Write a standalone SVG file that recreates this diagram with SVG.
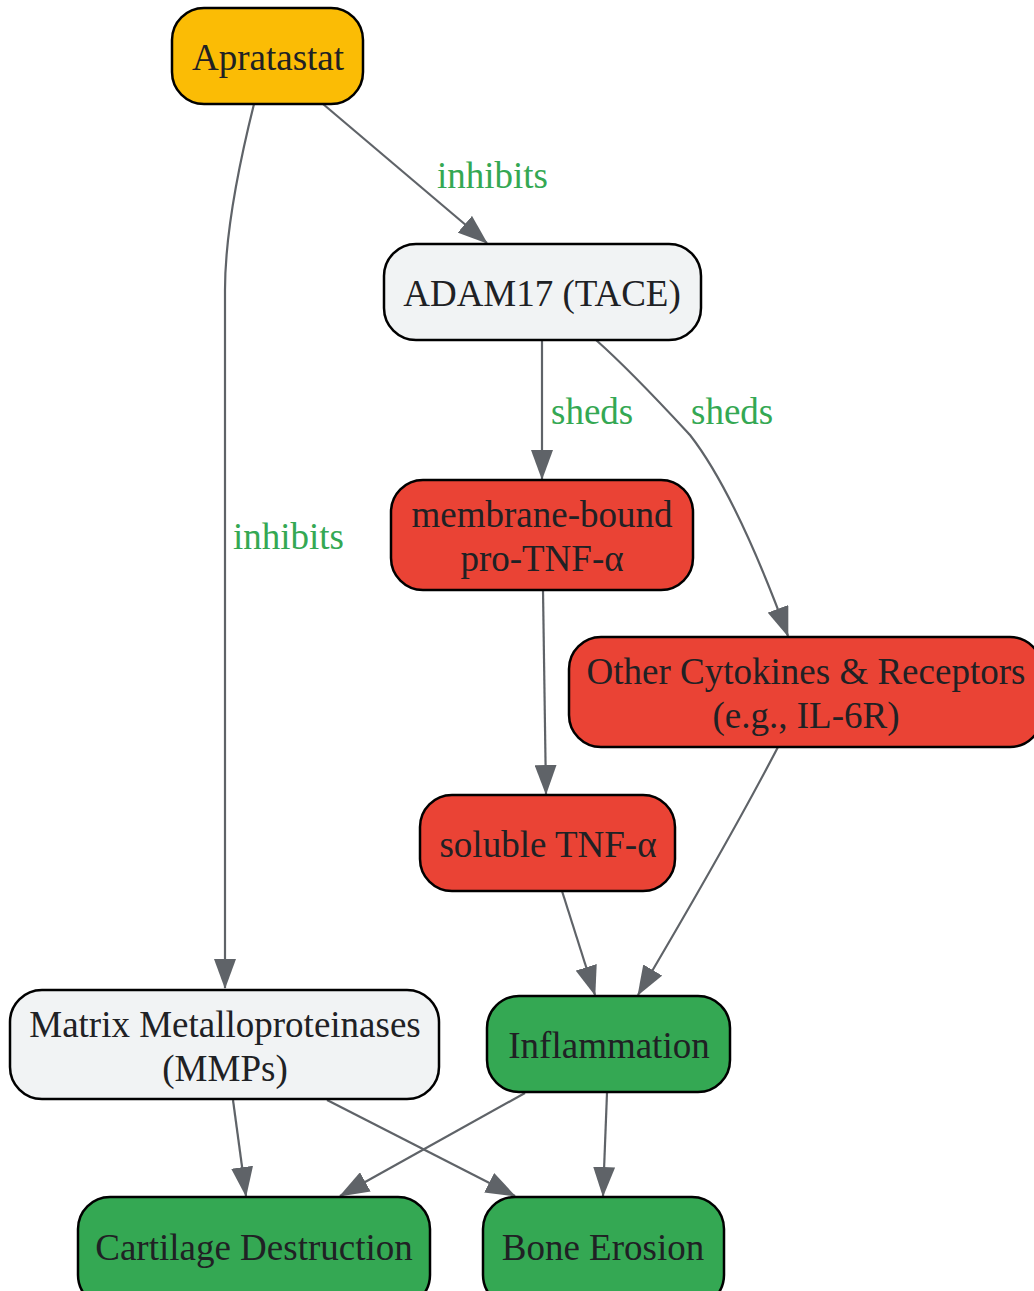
<svg xmlns="http://www.w3.org/2000/svg" width="1034" height="1291" viewBox="0 0 1034 1291">
<style>
.n{stroke:#000;stroke-width:2.5}
.t{font-family:"Liberation Serif","Times New Roman",serif;font-size:37px;fill:#202124;text-anchor:middle}
.l{font-family:"Liberation Serif","Times New Roman",serif;font-size:37px;fill:#34A853}
.e{fill:none;stroke:#5F6368;stroke-width:2.2}
.y{fill:#FBBC05}.g{fill:#F1F3F4}.r{fill:#EA4335}.gr{fill:#34A853}
</style>
<defs>
<marker id="a" markerUnits="userSpaceOnUse" markerWidth="30" markerHeight="22" refX="29" refY="11" orient="auto" viewBox="0 0 30 22">
<path d="M0,0 L30,11 L0,22 z" fill="#5F6368"/>
</marker>
</defs>
<g id="edges">
<path class="e" marker-end="url(#a)" d="M254,104 C240,160 225,230 225,290 L225,988"/>
<path class="e" marker-end="url(#a)" d="M323,104 L487,243"/>
<path class="e" marker-end="url(#a)" d="M542,340 L542,479"/>
<path class="e" marker-end="url(#a)" d="M596,340 C630,370 665,408 690,435 C725,480 760,560 788,636"/>
<path class="e" marker-end="url(#a)" d="M543,590 L546,794"/>
<path class="e" marker-end="url(#a)" d="M562,891 L595,995"/>
<path class="e" marker-end="url(#a)" d="M778,747 C740,820 700,890 638,995"/>
<path class="e" marker-end="url(#a)" d="M233,1100 L246,1196"/>
<path class="e" marker-end="url(#a)" d="M327,1100 L515,1196"/>
<path class="e" marker-end="url(#a)" d="M525,1093 L340,1196"/>
<path class="e" marker-end="url(#a)" d="M607,1093 L603,1196"/>
<text class="l" x="437" y="188">inhibits</text>
<text class="l" x="233" y="549">inhibits</text>
<text class="l" x="551" y="424">sheds</text>
<text class="l" x="691" y="424">sheds</text>
</g>
<g id="apratastat"><rect class="n y" x="172" y="8" width="191" height="96" rx="32"/><text class="t" x="268" y="70">Apratastat</text></g>
<g id="adam17"><rect class="n g" x="384" y="244" width="317" height="96" rx="32"/><text class="t" x="542" y="306">ADAM17 (TACE)</text></g>
<g id="membrane"><rect class="n r" x="391" y="480" width="302" height="110" rx="32"/><text class="t" x="542" y="527">membrane-bound</text><text class="t" x="542" y="571">pro-TNF-α</text></g>
<g id="other"><rect class="n r" x="569" y="637" width="473" height="110" rx="32"/><text class="t" x="806" y="684">Other Cytokines &amp; Receptors</text><text class="t" x="806" y="728">(e.g., IL-6R)</text></g>
<g id="soluble"><rect class="n r" x="420" y="795" width="255" height="96" rx="32"/><text class="t" x="548" y="857">soluble TNF-α</text></g>
<g id="mmps"><rect class="n g" x="10" y="990" width="429" height="109" rx="32"/><text class="t" x="225" y="1037">Matrix Metalloproteinases</text><text class="t" x="225" y="1081">(MMPs)</text></g>
<g id="inflammation"><rect class="n gr" x="487" y="996" width="243" height="96" rx="32"/><text class="t" x="609" y="1058">Inflammation</text></g>
<g id="cartilage"><rect class="n gr" x="78" y="1197" width="352" height="110" rx="32"/><text class="t" x="254" y="1260">Cartilage Destruction</text></g>
<g id="bone"><rect class="n gr" x="483" y="1197" width="241" height="110" rx="32"/><text class="t" x="603" y="1260">Bone Erosion</text></g>
</svg>
